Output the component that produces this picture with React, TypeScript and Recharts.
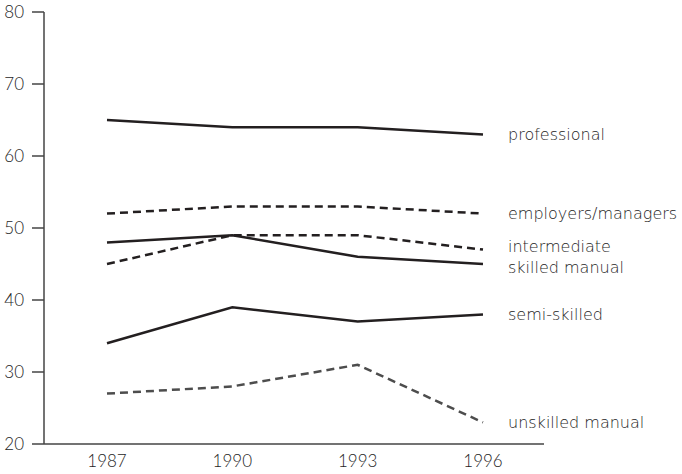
import React from "react";
import { LineChart, Line, XAxis, YAxis, LabelList } from "recharts";

const years = ["1987", "1990", "1993", "1996"];
const professional = [65, 64, 64, 63];
const employersManagers = [52, 53, 53, 52];
const intermediate = [45, 49, 49, 47];
const skilledManual = [48, 49, 46, 45];
const semiSkilled = [34, 39, 37, 38];
const unskilledManual = [27, 28, 31, 23];
const yTicks = [20, 30, 40, 50, 60, 70, 80];

const data = years.map((y, i) => ({
  year: y,
  professional: professional[i],
  employers: employersManagers[i],
  intermediate: intermediate[i],
  skilled: skilledManual[i],
  semi: semiSkilled[i],
  unskilled: unskilledManual[i],
}));

const series = [
  { key: "professional", name: "professional", color: "#231f20", dash: undefined, dy: 0 },
  { key: "employers", name: "employers/managers", color: "#231f20", dash: "8 5", dy: 0 },
  { key: "intermediate", name: "intermediate", color: "#231f20", dash: "8 5", dy: -3 },
  { key: "skilled", name: "skilled manual", color: "#231f20", dash: undefined, dy: 3 },
  { key: "semi", name: "semi-skilled", color: "#231f20", dash: undefined, dy: 0 },
  { key: "unskilled", name: "unskilled manual", color: "#4d4d4d", dash: "8 5", dy: 0 },
];

const LABEL_FONT = "'DejaVu Sans', sans-serif";
const TICK_FONT = "Lato, 'Open Sans', sans-serif";
const TEXT_COLOR = "#1e1e1e";

const makeLabel = (name: string, dy: number) => (props: any) => {
  const { x, y, index } = props;
  if (index !== years.length - 1) return null;
  return (
    <text
      x={x + 25}
      y={y + dy}
      dominantBaseline="central"
      fill={TEXT_COLOR}
      fontSize={16}
      fontWeight={300}
      fontFamily={LABEL_FONT}
    >
      {name}
    </text>
  );
};

export default function App() {
  return (
    <div style={{ position: "absolute", left: 0, top: 0, width: 682, height: 474, background: "#fff" }}>
      <LineChart
        width={682}
        height={474}
        data={data}
        margin={{ top: 12, right: 138, bottom: 0, left: 0 }}
      >
        <XAxis
          dataKey="year"
          padding={{ left: 63, right: 61 }}
          tickLine={false}
          tickSize={0}
          tickMargin={11}
          height={30}
          axisLine={{ stroke: "#444", strokeWidth: 1.5 }}
          tick={{ fill: TEXT_COLOR, fontSize: 17, fontWeight: 300, fontFamily: TICK_FONT }}
        />
        <YAxis
          domain={[20, 80]}
          ticks={yTicks}
          width={44}
          tickSize={12}
          tickMargin={8}
          axisLine={{ stroke: "#444", strokeWidth: 1.5 }}
          tickLine={{ stroke: "#444", strokeWidth: 1.5 }}
          tick={{ fill: TEXT_COLOR, fontSize: 17, fontWeight: 300, fontFamily: TICK_FONT }}
          interval={0}
        />
        {series.map((s) => (
          <Line
            key={s.key}
            dataKey={s.key}
            stroke={s.color}
            strokeWidth={2.5}
            strokeDasharray={s.dash}
            dot={false}
            activeDot={false}
            type="linear"
            isAnimationActive={false}
          >
            <LabelList dataKey={s.key} content={makeLabel(s.name, s.dy)} />
          </Line>
        ))}
      </LineChart>
    </div>
  );
}
